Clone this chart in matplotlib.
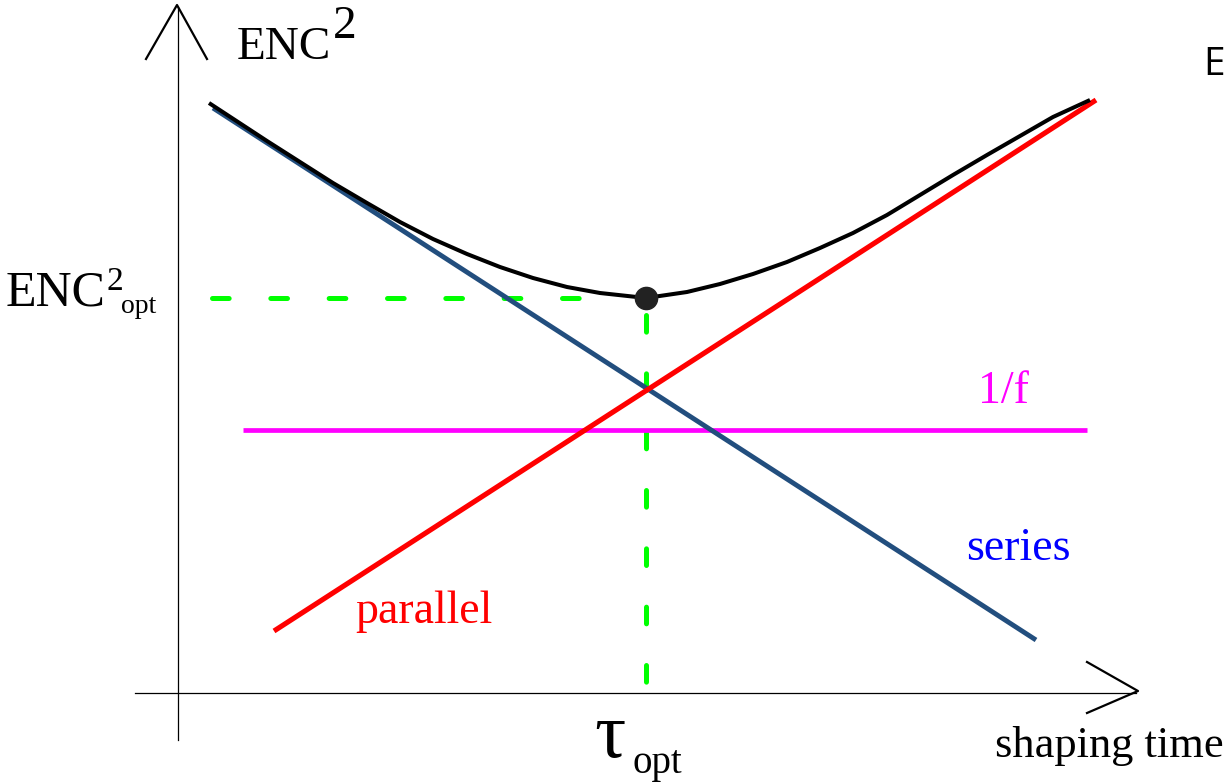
import matplotlib
matplotlib.use('Agg')
import matplotlib.pyplot as plt

plt.rcParams['lines.scale_dashes'] = False

# schematic ENC^2 vs shaping time (arbitrary units, origin at the axes cross)
series_x = [35, 858]
series_y = [585, 53]
parallel_x = [96, 918]
parallel_y = [62, 593]
flicker_x = [65, 909]
flicker_y = [263, 263]

total_x = [31, 89, 155, 189, 222, 255, 289, 322, 355, 389, 422, 468,
           509, 542, 575, 609, 642, 675, 709, 742, 775, 809, 842, 875, 912]
total_y = [590, 552, 510, 490, 471, 454, 439, 426, 415, 406, 400, 395,
           401, 409, 419, 431, 445, 460, 478, 498, 518, 538, 557, 576, 593]

tau_opt = 468
enc_opt = 395

SERIF = 'Liberation Serif'

fig = plt.figure(figsize=(12.27, 7.82), dpi=100)
ax = fig.add_axes([0, 0, 1, 1])
ax.set_xlim(-178, 1049)
ax.set_ylim(-89, 693)
ax.axis('off')

# axes with open arrow heads
ax.plot([0, 0], [-47, 686], color='black', lw=0.9)
ax.plot([-43, 958], [0, 0], color='black', lw=0.9)
ax.plot([-32, -1, 29], [634, 688, 634], color='black', lw=1.6)
ax.plot([909, 960, 909], [31, 2, -20], color='black', lw=1.6)

# guide lines to the optimum
ax.plot([34, 420], [enc_opt, enc_opt], color='#00ff00', lw=3.6,
        dashes=(12, 30), dash_capstyle='round')
ax.plot([tau_opt, tau_opt], [378, 5], color='#00ff00', lw=3.6,
        dashes=(12, 30), dash_capstyle='round')

# noise contributions
ax.plot(flicker_x, flicker_y, color='#ff00ff', lw=3.4, solid_capstyle='butt')
ax.plot(series_x, series_y, color='#224e7e', lw=3.5, solid_capstyle='butt')
ax.plot(parallel_x, parallel_y, color='#ff0000', lw=3.7, solid_capstyle='butt')
ax.plot(total_x, total_y, color='black', lw=2.9, solid_capstyle='butt',
        solid_joinstyle='round')
ax.plot([tau_opt], [enc_opt], 'o', color='#222222', ms=16, zorder=5)

# labels
ax.text(59, 634, 'ENC', fontsize=34, family=SERIF, va='baseline')
ax.text(155, 655, '2', fontsize=34, family=SERIF, va='baseline')

ax.text(-172, 388, 'ENC', fontsize=36, family=SERIF, va='baseline')
ax.text(-71, 403, '2', fontsize=24, family=SERIF, va='baseline')
ax.text(-57, 380, 'opt', fontsize=20, family=SERIF, va='baseline')

ax.text(416, -64, 'τ', fontsize=56, family=SERIF, va='baseline')
ax.text(455, -80, 'opt', fontsize=28, family=SERIF, va='baseline')
ax.text(817, -64, 'shaping time', fontsize=32, family=SERIF, va='baseline')

ax.text(177, 70, 'parallel', fontsize=33, family=SERIF, va='baseline', color='#ff0000')
ax.text(788, 133, 'series', fontsize=33, family=SERIF, va='baseline', color='#0000ff')
ax.text(800, 290, '1/f', fontsize=33, family=SERIF, va='baseline', color='#ff00ff')

ax.text(1025, 618, 'E', fontsize=28, family='Open Sans', va='baseline')

fig.savefig('out.png', dpi=100)
